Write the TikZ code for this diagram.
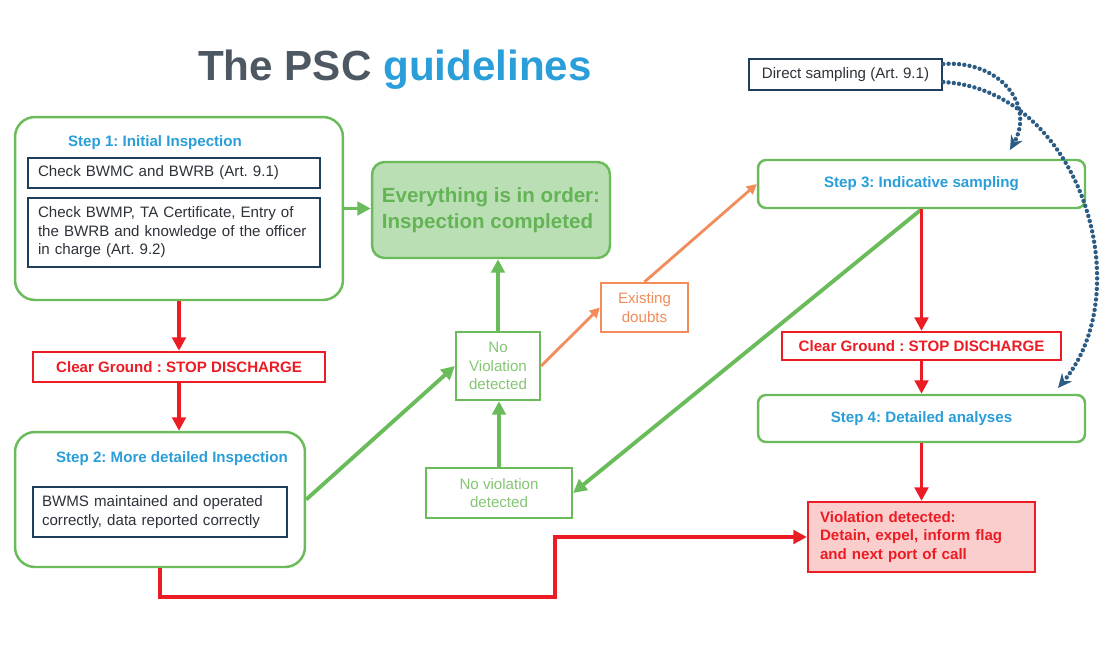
\documentclass[tikz,border=0pt]{standalone}
\usepackage{fontspec}
\setmainfont{Liberation Sans}
\usetikzlibrary{arrows.meta}
\frenchspacing
\definecolor{grn}{RGB}{106,188,90}
\definecolor{grnlt}{RGB}{132,198,116}
\definecolor{okfill}{RGB}{186,223,180}
\definecolor{okt}{RGB}{100,180,86}
\definecolor{blu}{RGB}{42,158,216}
\definecolor{navy}{RGB}{30,62,92}
\definecolor{rd}{RGB}{236,28,36}
\definecolor{rdfill}{RGB}{251,206,206}
\definecolor{orn}{RGB}{242,140,90}
\definecolor{ttlc}{RGB}{78,88,98}
\definecolor{dotc}{RGB}{44,92,132}
\definecolor{txtc}{RGB}{45,50,58}
\tikzstyle{sm}=[font=\fontsize{8.6}{10.5}\selectfont]
\tikzstyle{smb}=[font=\fontsize{8.6}{10.5}\selectfont\bfseries]
\tikzstyle{stp}=[draw=grn,line width=1.4pt,fill=white]
\tikzstyle{hd}=[smb,text=blu]
\tikzstyle{chk}=[sm,draw=navy,text=txtc,line width=1.5pt,align=left,inner xsep=0.2cm]
\tikzstyle{rbx}=[smb,draw=rd,line width=1.3pt,text=rd]
\tikzstyle{nv}=[sm,draw=grn,line width=1.3pt,text=grnlt,align=center]
\tikzstyle{garr}=[draw=grn,line width=2.2pt,-{Triangle[length=0.27cm,width=0.27cm]}]
\tikzstyle{rarr}=[draw=rd,line width=2.2pt,-{Triangle[length=0.27cm,width=0.27cm]}]
\tikzstyle{oarr}=[draw=orn,line width=1.6pt,-{Triangle[length=0.2cm,width=0.2cm]}]
\tikzstyle{darr}=[draw=dotc,line width=2.5pt,dash pattern=on 0pt off 3pt,line cap=round,-{Stealth[length=0.28cm,width=0.26cm]}]

\begin{document}
\begin{tikzpicture}[x=0.02cm,y=-0.02cm]
\useasboundingbox[fill=white] (0,0) rectangle (1105,653);
\node (ttl) at (395,70) {\fontsize{24}{28}\selectfont\bfseries\textcolor{ttlc}{The PSC} \textcolor{blu}{guidelines}};
\node[stp,rounded corners=0.4cm,minimum width=6.56cm,minimum height=3.66cm] (s1) at (179,208.5) {};
\node[hd] (s1t) at (155,143) {Step 1: Initial Inspection};
\node[chk,text width=5.44cm,minimum height=0.6cm] (c1) at (174,173) {Check BWMC and BWRB (Art. 9.1)};
\node[chk,text width=5.44cm,minimum height=1.38cm] (c2) at (174,232.5) {Check BWMP, TA Certificate, Entry of\\the BWRB and knowledge of the officer\\in charge (Art. 9.2)};
\node[draw=grn,line width=1.4pt,fill=okfill,rounded corners=0.25cm,minimum width=4.76cm,minimum height=1.92cm,text=okt,align=left,font=\fontsize{11.7}{14.7}\selectfont\bfseries] (ok) at (491,210) {Everything is in order:\\Inspection completed};
\node[rbx,minimum width=5.84cm,minimum height=0.6cm] (cg1) at (179,367) {Clear Ground : STOP DISCHARGE};
\node[stp,rounded corners=0.4cm,minimum width=5.8cm,minimum height=2.7cm] (s2) at (160,499.5) {};
\node[hd] (s2t) at (172,459) {Step 2: More detailed Inspection};
\node[chk,text width=4.72cm,minimum height=1cm,inner xsep=0.18cm] (c3) at (160,512) {BWMS maintained and operated\\correctly, data reported correctly};
\node[nv,minimum width=1.68cm,minimum height=1.36cm] (nv1) at (498,366) {No\\Violation\\detected};
\node[sm,draw=orn,line width=1.3pt,text=orn,align=center,minimum width=1.74cm,minimum height=0.98cm] (db) at (644.5,307.5) {Existing\\doubts};
\node[nv,minimum width=2.92cm,minimum height=1cm] (nv2) at (499,493) {No violation\\detected};
\node[chk,minimum width=3.86cm,minimum height=0.62cm,align=center] (ds) at (845.5,74.5) {Direct sampling (Art. 9.1)};
\node[stp,hd,rounded corners=0.16cm,minimum width=6.54cm,minimum height=0.96cm] (s3) at (921.5,184) {Step 3: Indicative sampling};
\node[rbx,minimum width=5.58cm,minimum height=0.56cm] (cg2) at (921.5,346) {Clear Ground : STOP DISCHARGE};
\node[stp,hd,rounded corners=0.16cm,minimum width=6.54cm,minimum height=0.94cm] (s4) at (921.5,418.5) {Step 4: Detailed analyses};
\node[rbx,fill=rdfill,align=left,text width=4.06cm,inner xsep=0.24cm,minimum height=1.4cm] (vio) at (921.5,537) {Violation detected:\\Detain, expel, inform flag\\and next port of call};
\coordinate (bend) at (555,597);
\coordinate (s3in) at (1010,150);
\coordinate (s4in) at (1058,388);
\draw[garr] (s1.east) -- (s1.east -| ok.west);
\draw[rarr] (s1.south) -- (cg1.north);
\draw[rarr] (cg1.south) -- (cg1.south |- s2.north);
\draw[garr] (s2.east) -- (nv1.west);
\draw[garr] (nv1.north) -- (nv1.north |- ok.south);
\draw[garr] (nv2.north) -- (nv2.north |- nv1.south);
\draw[oarr] (nv1.east) -- (db.west);
\draw[oarr] (db.north) -- (s3.west);
\draw[garr] (s3.south) -- (nv2.east);
\draw[rarr] (s3.south) -- (cg2.north);
\draw[rarr] (cg2.south) -- (s4.north);
\draw[rarr] (s4.south) -- (vio.north);
\draw[rarr] (s2.south) |- (bend) |- (vio.west);
\draw[darr] ([yshift=0.21cm]ds.east) .. controls (1000,60) and (1035,105) .. (s3in);
\draw[darr] ([yshift=-0.15cm]ds.east) .. controls (1080,90) and (1140,290) .. (s4in);
\end{tikzpicture}
\end{document}
